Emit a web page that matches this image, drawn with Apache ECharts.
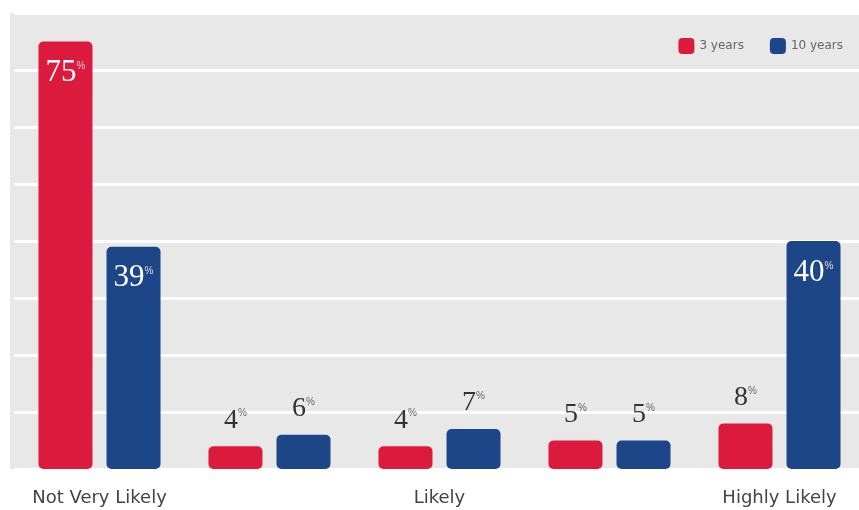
<!DOCTYPE html>
<html>
<head>
<meta charset="utf-8">
<script src="https://cdn.jsdelivr.net/npm/echarts@6/dist/echarts.min.js"></script>
<style>html,body{margin:0;padding:0;background:#fff;}#c{width:859px;height:510px;}</style>
</head>
<body>
<div id="c"></div>
<script>
const categories = ['Not Very Likely', '', 'Likely', '', 'Highly Likely'];
const seriesNames = ['3 years', '10 years'];
const threeYears = [75, 4, 4, 5, 8];
const tenYears = [39, 6, 7, 5, 40];
const yTicks = [0, 10, 20, 30, 40, 50, 60, 70, 80];

const RED = '#db1a3d';
const BLUE = '#1c4688';
const INSIDE_MIN = 20;

function labelFor(v) {
  const inside = v >= INSIDE_MIN;
  return {
    show: true,
    position: inside ? 'insideTop' : 'top',
    distance: inside ? 16 : 12,
    formatter: '{n|' + v + '}{p|%}',
    rich: {
      n: { fontFamily: 'Liberation Serif, DejaVu Serif, serif', fontSize: inside ? 31 : 28, color: inside ? '#ffffff' : '#333333' },
      p: { fontFamily: 'Liberation Sans, Arial, sans-serif', fontSize: 10, color: inside ? '#f3d0d6' : '#666666', padding: [0, 0, 13, 0] }
    }
  };
}

function makeData(arr) {
  return arr.map(v => ({ value: v, label: labelFor(v) }));
}

const chart = echarts.init(document.getElementById('c'), null, { renderer: 'canvas' });
chart.setOption({
  animation: false,
  backgroundColor: '#ffffff',
  graphic: [{
    type: 'rect', z: -10, silent: true,
    shape: { x: 10, y: 13, width: 849, height: 456 },
    style: { fill: '#e8e8e8' }
  }],
  legend: {
    right: 11, top: 33,
    itemWidth: 16, itemHeight: 16, itemGap: 26,
    icon: 'roundRect',
    textStyle: { fontSize: 12, color: '#666', fontFamily: 'DejaVu Sans, Verdana, sans-serif' },
    data: seriesNames
  },
  grid: { left: 14.5, width: 850, top: 13, bottom: 41, outerBoundsMode: 'none', containLabel: false },
  xAxis: {
    type: 'category',
    data: categories,
    axisLine: { show: false },
    axisTick: { show: false },
    axisLabel: { interval: 0, margin: 20, fontSize: 18, color: '#444', fontFamily: 'DejaVu Sans, Verdana, sans-serif' }
  },
  yAxis: {
    type: 'value',
    min: yTicks[0], max: yTicks[yTicks.length - 1], interval: yTicks[1] - yTicks[0],
    axisLine: { show: false }, axisTick: { show: false }, axisLabel: { show: false },
    splitLine: { show: true, lineStyle: { color: '#ffffff', width: 3 } }
  },
  series: [
    {
      name: seriesNames[0], type: 'bar', barWidth: 54, barGap: '26%',
      itemStyle: { color: RED, borderRadius: 5 },
      data: makeData(threeYears)
    },
    {
      name: seriesNames[1], type: 'bar', barWidth: 54, barGap: '26%',
      itemStyle: { color: BLUE, borderRadius: 5 },
      data: makeData(tenYears)
    }
  ]
});
</script>
</body>
</html>
